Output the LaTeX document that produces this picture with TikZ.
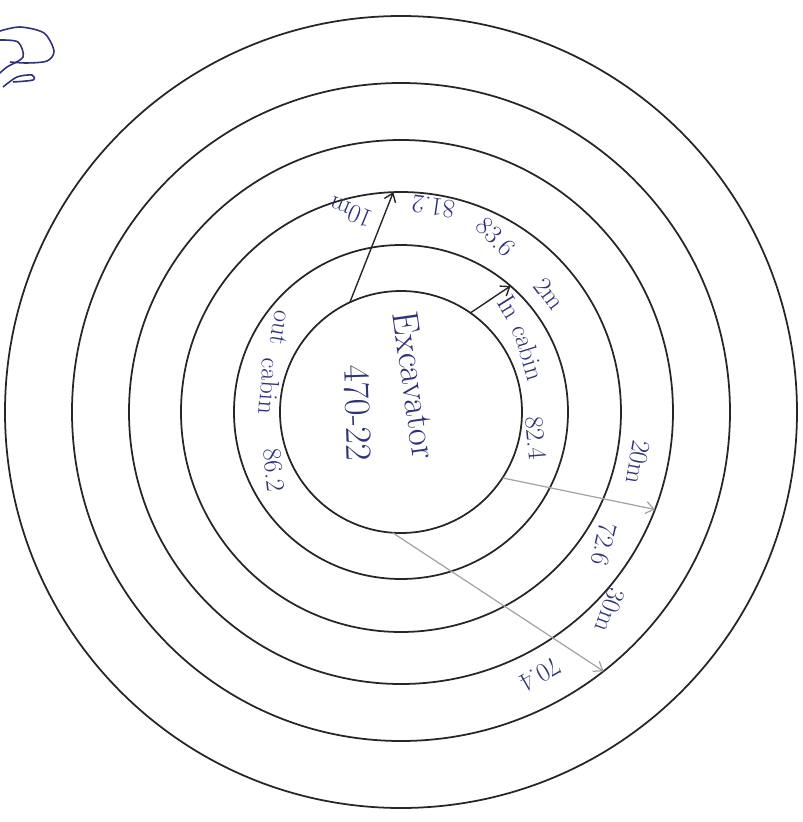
\documentclass[tikz,border=0pt]{standalone}
\usepackage{fontspec}
\usetikzlibrary{arrows.meta}
\definecolor{ink}{HTML}{2F3277}
\definecolor{lead}{HTML}{A3A3A3}
\definecolor{penline}{HTML}{262626}

\begin{document}
\begin{tikzpicture}[
  >={Straight Barb[length=1.6mm, width=2.4mm]},
  ring/.style={circle, draw=penline, line width=1pt, inner sep=0pt,
    outer sep=0pt, minimum size=#1},
  pen/.style={->, line width=0.8pt, penline},
  pencil/.style={->, line width=0.7pt, lead},
  lbl/.style={text=ink, font=\fontsize{15}{17}\selectfont, inner sep=0pt},
  mainlbl/.style={text=ink, font=\fontsize{21}{23}\selectfont, inner sep=0pt},
]

% Frame
\useasboundingbox (-8.02,8.24) rectangle (8.04,-8.20);

% Scribble in the corner
\draw[ink, line width=0.9pt] plot[smooth] coordinates
  {(-8.02,7.62) (-7.62,7.70) (-7.14,7.58) (-6.94,7.22) (-7.08,7.02) (-7.48,6.98) (-7.82,7.00)};
\draw[ink, line width=0.9pt] plot[smooth] coordinates
  {(-8.02,7.44) (-7.66,7.40) (-7.56,7.10) (-7.88,6.90) (-8.02,6.78)};
\draw[ink, line width=0.9pt] plot[smooth] coordinates
  {(-7.96,6.50) (-7.68,6.70) (-7.38,6.74) (-7.36,6.64) (-7.76,6.60)};

% === Six rings ===
\foreach \d/\n in {4.84/1, 6.68/2, 8.80/3, 10.88/4, 13.16/5, 15.84/6}
  \node[ring=\d cm] (ring\n) at (0,0) {};

% === Centre ===
\node[mainlbl, rotate=-82] (machine) at (0.28,0.54) {Excavator};
\node[mainlbl, rotate=-88] (model) at (-0.86,-0.02) {470-22};

% === Cabin readings ===
\node[lbl, rotate=-58] (inw) at (44:3.02) {In};
\node[lbl, rotate=-73] (incab) at (25:2.82) {cabin};
\node[lbl, rotate=-85] (inval) at (-11:2.75) {82.4};

\node[lbl, rotate=-100] (outw) at (145:2.94) {out};
\node[lbl, rotate=-94] (outcab) at (169:2.67) {cabin};
\node[lbl, rotate=-84] (outval) at (204.5:2.79) {86.2};

% === Distance readings ===
\node[lbl, rotate=158] (d10) at (104:4.12) {10m};
\node[lbl, rotate=172] (v10) at (81:4.16) {81.2};
\node[lbl, rotate=-46] (v2) at (61.5:3.98) {83.6};
\node[lbl, rotate=-53] (d2) at (38.5:3.80) {2m};
\node[lbl, rotate=-100] (d20) at (-12:4.85) {20m};
\node[lbl, rotate=-103] (v20) at (-33:4.85) {72.6};
\node[lbl, rotate=-110] (d30) at (-43.5:5.76) {30m};
\node[lbl, rotate=-150] (v30) at (-62:5.95) {70.4};

% === Radial arrows ===
\draw[pen] (ring1.115) -- (ring3.92);
\draw[pen] (ring1.55) -- (ring2.49);
\draw[pencil] (ring1.-33) -- (ring4.-21);
\draw[pencil] (ring1.-94) -- (ring5.-52);

\end{tikzpicture}
\end{document}
